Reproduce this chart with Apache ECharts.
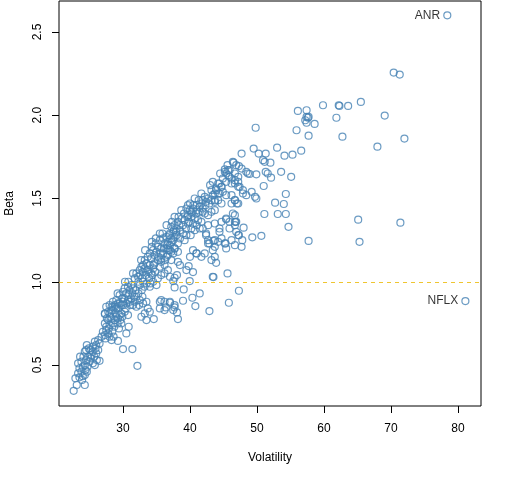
<!DOCTYPE html>
<html>
<head>
<meta charset="utf-8">
<script src="https://cdn.jsdelivr.net/npm/echarts@6/dist/echarts.min.js"></script>
<style>
html, body { margin: 0; padding: 0; background: #fff; }
#main { width: 512px; height: 480px; }
</style>
</head>
<body>
<div id="main"></div>
<script>
// [volatility, beta]
const stocks = [
    // upper / right part
    [59.85,2.06],[62.2,2.06],[61.85,1.985],[57.4,2.03],[56.1,2.026],[57.6,1.985],[57.2,1.97],[57.4,1.955],[58.6,1.948],
    [55.9,1.91],[57.7,1.877],[49.8,1.925],[53.0,1.805],[49.5,1.80],[47.7,1.77],[50.25,1.77],[51.3,1.77],[50.9,1.73],
    [51.15,1.72],[52.0,1.715],[54.1,1.757],[55.3,1.763],[56.6,1.787],[46.5,1.715],[47.3,1.695],[47.7,1.68],[45.2,1.675],
    [45.7,1.67],[45.4,1.65],[48.4,1.66],[48.65,1.65],[48.9,1.647],[49.9,1.645],[51.3,1.66],[51.6,1.65],[52.1,1.625],
    [53.6,1.66],[55.1,1.63],[51.0,1.575],[43.4,1.60],[44.4,1.59],[44.7,1.57],[43.9,1.56],[44.2,1.53],[45.9,1.63],
    [46.2,1.59],[46.7,1.61],[47.2,1.60],[47.4,1.57],[47.9,1.55],[46.2,1.52],[46.7,1.49],[47.0,1.47],[48.4,1.52],
    [49.2,1.54],[49.7,1.51],[49.9,1.50],[47.9,1.53],[41.7,1.53],[41.9,1.49],[43.4,1.52],[43.7,1.49],[52.7,1.475],
    [54.0,1.467],[54.3,1.527],[51.1,1.407],[53.1,1.407],[54.3,1.407],[54.7,1.33],[57.7,1.245],[46.7,1.40],[46.8,1.36],
    [48.0,1.325],[47.3,1.28],[47.8,1.25],[47.7,1.21],[49.3,1.267],[50.65,1.276],[45.4,1.375],[44.4,1.32],[43.7,1.35],
    [45.3,1.23],[45.6,1.05],[43.4,1.03],[43.9,1.114],
    [70.4,2.256],[71.3,2.244],[62.3,2.056],[63.6,2.056],[65.5,2.08],[69.06,1.998],[62.75,1.871],[67.97,1.811],
    [72.0,1.86],[57.4,1.99],[57.7,1.99],[65.1,1.373],[71.4,1.355],[65.3,1.24],
    // below the band
    [32.15,0.495],[30.0,0.596],[31.4,0.596],[30.5,0.69],[30.85,0.73],[29.25,0.645],[33.5,0.77],[34.6,0.776],[38.2,0.776],
    [35.5,0.88],[37.0,0.874],[36.4,0.846],[37.7,0.846],[38.06,0.816],[38.96,0.886],[39.06,0.954],[37.7,0.966],
    [40.36,0.904],[41.45,0.93],[40.8,0.854],[42.9,0.824],[45.8,0.874],[47.3,0.946],[39.96,1.004],[40.45,1.058],
    [39.8,1.094],[43.5,1.028],[43.2,1.13],[37.0,1.03],[37.7,1.024],[38.06,1.04],[37.5,1.004],[38.2,1.12],[38.5,1.10],
    [39.46,1.07],[40.96,1.17],[41.7,1.15],[42.7,1.23],[43.5,1.246],[43.7,1.21],[46.7,1.36],[47.2,1.28],[42.4,1.29],
    [42.7,1.34],
    // lower tail
    [22.64,0.345],[23.1,0.38],[24.3,0.38],[22.9,0.42],[23.5,0.426],[24.0,0.433],[23.3,0.45],[23.8,0.46],[24.3,0.44],
    [23.5,0.48],[24.0,0.49],[23.3,0.51],[23.8,0.52],[24.3,0.50],[24.5,0.53],[25.0,0.52],[24.8,0.55],[25.3,0.56],
    [25.5,0.51],[25.8,0.50],[26.5,0.525],[24.3,0.58],[24.5,0.59],[24.9,0.60],[25.5,0.58],[26.0,0.57],[26.3,0.59],
    [25.5,0.61],[26.0,0.62],[26.5,0.63],[25.8,0.64],[26.3,0.65],[26.8,0.67],[27.3,0.68],[27.0,0.70],[27.5,0.71],
    [27.8,0.69],[28.0,0.67],[28.3,0.65],[27.5,0.73],[28.0,0.74],[28.5,0.75],[27.3,0.75],[27.8,0.77],[28.3,0.78],
    [28.8,0.77],[29.0,0.79],[29.5,0.80],[27.3,0.806],[28.0,0.81],[28.5,0.83],[29.0,0.84],[28.3,0.85],[28.8,0.86],
    [29.25,0.87],[29.75,0.86],[30.0,0.88],[30.5,0.87],[31.0,0.88],[31.5,0.86],[32.0,0.85],[29.25,0.78],[29.75,0.81],
    [30.25,0.82],[30.75,0.80],[29.75,0.75],
    [23.9,0.41],[24.6,0.46],[24.1,0.55],[24.7,0.49],[25.2,0.54],[25.7,0.55],[25.1,0.59],[24.6,0.62],[23.6,0.55],
    [24.4,0.47],[25.9,0.60],[26.1,0.53],
    [27.4,0.66],[27.9,0.72],[28.4,0.70],[28.7,0.73],[29.2,0.75],[29.6,0.77],[28.9,0.81],[28.1,0.79],[27.6,0.78],
    [28.6,0.67],[29.4,0.72],[29.9,0.79],
    // around beta 1
    [27.3,0.81],[27.8,0.82],[28.3,0.83],[27.5,0.85],[28.0,0.86],[28.8,0.85],[29.25,0.84],[28.5,0.88],[29.0,0.89],
    [29.5,0.87],[30.0,0.86],[29.5,0.92],[30.0,0.94],[30.5,0.93],[30.25,0.96],[30.75,0.97],[31.0,0.95],[31.25,0.98],
    [31.5,0.96],[30.75,0.89],[31.25,0.90],[31.75,0.88],[32.0,0.91],[32.5,0.89],[33.0,0.87],[33.5,0.88],[33.7,0.84],
    [34.0,0.82],[33.25,0.81],[32.75,0.79],[31.75,1.02],[32.25,1.03],[32.0,1.05],[32.5,1.07],[33.0,1.06],[32.75,1.09],
    [33.25,1.08],[33.5,1.11],[34.0,1.10],[33.7,1.07],[34.2,1.05],[34.5,1.08],[32.5,0.98],[33.0,1.0],[33.5,0.99],
    [34.0,0.97],[34.5,1.0],[35.0,0.98],[33.25,1.13],[33.7,1.15],[34.2,1.14],[34.0,1.17],[34.7,1.16],[34.5,1.19],
    [35.0,1.18],[35.2,1.21],[35.7,1.20],[34.7,1.11],[35.2,1.13],[35.7,1.12],[35.5,1.09],[36.2,1.10],[35.2,1.02],
    [35.7,1.04],[36.2,1.05],[36.7,1.07],[35.5,1.25],[36.0,1.26],[36.5,1.27],[36.2,1.23],[36.7,1.24],[37.0,1.29],
    [37.5,1.30],[37.2,1.26],[37.7,1.27],[38.0,1.32],[37.2,1.33],[37.7,1.34],[38.2,1.36],[37.0,1.19],[37.5,1.17],
    [37.7,1.20],[38.2,1.18],[36.5,1.15],[37.2,1.13],[35.7,0.89],[36.2,0.88],[37.0,0.88],[37.7,0.86],[35.5,0.84],
    [36.2,0.83],[37.5,0.83],
    [29.2,0.93],[30.3,1.0],[30.8,1.0],[31.5,1.05],[32.7,1.13],[33.3,1.19],[34.3,1.24],[35.5,1.29],[36.5,1.34],
    [37.7,1.39],[38.7,1.43],[39.7,1.46],[40.7,1.50],[43.0,1.58],[44.5,1.65],[45.6,1.70],
    [32.3,1.0],[32.9,1.02],[33.4,1.04],[33.9,1.02],[34.4,1.04],[34.8,1.06],[33.2,0.97],[33.8,1.06],[34.6,1.10],
    [33.0,1.10],[32.6,1.04],[34.1,0.99],
    [30.2,0.9],[30.8,0.92],[31.4,0.93],[31.9,0.95],[32.3,0.93],[32.8,0.95],[31.1,0.86],[31.7,0.91],[32.4,0.86],
    [30.4,0.84],[29.9,0.9],[32.9,0.91],
    // middle of the band
    [34.3,1.21],[34.9,1.23],[35.6,1.17],[36.1,1.20],[36.6,1.22],[35.9,1.29],[36.9,1.28],[36.3,1.13],[35.3,1.15],
    [34.9,1.26],[37.3,1.24],[36.8,1.19],
    [37.3,1.36],[37.9,1.30],[38.4,1.34],[38.8,1.38],[39.4,1.32],[39.9,1.36],[40.3,1.41],[38.3,1.39],[39.1,1.41],
    [40.1,1.28],[37.6,1.31],[39.6,1.39],
    [40.0,1.47],[40.5,1.46],[41.3,1.49],[41.7,1.47],[40.9,1.41],[41.9,1.42],[42.3,1.46],[40.2,1.42],
    [46.4,1.72],[46.9,1.70],[45.9,1.67],[46.7,1.65],[47.2,1.63],[45.2,1.66],[45.7,1.64],[46.2,1.62],[44.9,1.62],
    [45.4,1.60],[46.7,1.59],[47.2,1.57],[44.2,1.59],[44.7,1.57],[43.9,1.55],[44.4,1.53],[44.9,1.54],[43.2,1.55],
    [43.7,1.53],[45.4,1.52],[42.2,1.51],[42.7,1.50],[43.2,1.49],[43.7,1.48],[44.2,1.49],[44.7,1.47],[42.4,1.48],
    [42.9,1.47],[46.2,1.47],[46.7,1.49],[47.2,1.47],[46.4,1.41],[46.9,1.36],[45.9,1.36],[45.4,1.38],[44.7,1.36],
    [41.0,1.46],[41.45,1.45],[41.9,1.44],[40.45,1.44],[41.0,1.43],[41.45,1.42],[42.2,1.41],[42.7,1.40],[43.2,1.42],
    [43.7,1.43],[39.46,1.44],[39.96,1.43],[39.7,1.40],[40.2,1.39],[40.7,1.38],[41.2,1.37],[41.7,1.36],[40.45,1.35],
    [41.0,1.34],[39.2,1.37],[39.7,1.35],[38.96,1.34],[40.2,1.32],[40.7,1.31],[41.45,1.32],[38.5,1.31],[38.96,1.29],
    [39.46,1.28],[38.0,1.28],[38.5,1.26],[39.2,1.25],[37.5,1.25],[38.2,1.23],[37.0,1.22],[37.7,1.20],[36.5,1.20],
    [37.2,1.18],[36.0,1.17],[36.7,1.16],[35.7,1.14],[41.9,1.32],[42.4,1.28],[42.7,1.25],[42.9,1.23],[43.7,1.25],
    [44.2,1.24],[44.7,1.26],[45.2,1.23],[44.4,1.30],[45.9,1.32],[46.7,1.34],[46.9,1.30],[46.2,1.25],[46.7,1.22],
    [45.4,1.20],[43.4,1.19],[43.7,1.15],[40.45,1.19],[41.0,1.17],[42.2,1.17],[40.0,1.15]
]

// outliers with names
const labelNames = ['ANR', 'NFLX']
const labelVol = [78.4, 81.1]
const labelBeta = [2.60, 0.884]

const xTicks = [30, 40, 50, 60, 70, 80]
const yTicks = [0.5, 1.0, 1.5, 2.0, 2.5]
const refBeta = 1.0

const steel = '#4682B4'
const font = 'Liberation Sans, Arial, sans-serif'

let myChart = echarts.init(document.getElementById('main'))

let options = {
    animation: false,
    backgroundColor: '#fff',
    grid: {
        left: 59, right: 31, top: 1, bottom: 74,
        show: true, borderColor: '#000', borderWidth: 1,
        containLabel: false, outerBoundsMode: 'none'
    },
    xAxis: {
        type: 'value',
        min: 20.45, max: 83.43,
        name: 'Volatility',
        nameLocation: 'middle',
        nameGap: 46,
        nameTextStyle: { color: '#000', fontSize: 12, fontFamily: font },
        axisLine: { show: false },
        axisTick: { show: true, length: 7, customValues: xTicks, lineStyle: { color: '#000' } },
        axisLabel: { customValues: xTicks, margin: 17, color: '#000', fontSize: 12, fontFamily: font },
        splitLine: { show: false }
    },
    yAxis: {
        type: 'value',
        min: 0.254, max: 2.686,
        name: 'Beta',
        nameLocation: 'middle',
        nameGap: 43,
        nameTextStyle: { color: '#000', fontSize: 12, fontFamily: font },
        axisLine: { show: false },
        axisTick: { show: true, length: 7, customValues: yTicks, lineStyle: { color: '#000' } },
        axisLabel: {
            customValues: yTicks, margin: 15, rotate: 90,
            color: '#000', fontSize: 12, fontFamily: font,
            formatter: v => v.toFixed(1)
        },
        splitLine: { show: false }
    },
    series: [{
        name: 'stocks',
        type: 'scatter',
        symbol: 'circle',
        symbolSize: 7,
        itemStyle: { color: 'transparent', borderColor: steel, borderWidth: 1.2 },
        data: stocks,
        markLine: {
            silent: true,
            symbol: 'none',
            label: { show: false },
            lineStyle: { color: '#EFC530', type: [4, 4], width: 1 },
            data: [{ yAxis: refBeta }]
        }
    }, {
        name: 'labelled',
        type: 'scatter',
        symbol: 'circle',
        symbolSize: 7,
        itemStyle: { color: 'transparent', borderColor: steel, borderWidth: 1.2 },
        label: {
            show: true, position: 'left', distance: 3,
            formatter: '{b}', color: '#000', fontSize: 12, fontFamily: font
        },
        data: labelNames.map((n, i) => ({ name: n, value: [labelVol[i], labelBeta[i]] }))
    }]
}

myChart.setOption(options)
</script>
</body>
</html>
